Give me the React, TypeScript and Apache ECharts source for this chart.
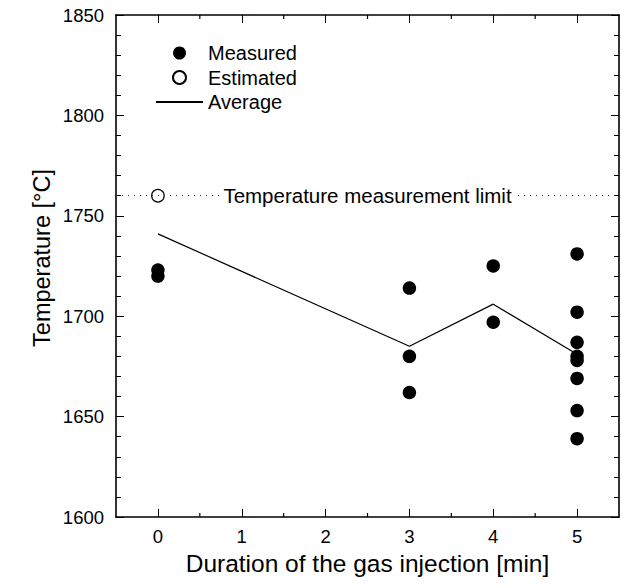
import React, { useEffect, useRef } from "react";
import * as echarts from "echarts";

const measuredX = [0, 0, 3, 3, 3, 4, 4, 5, 5, 5, 5, 5, 5, 5, 5];
const measuredY = [1723, 1720, 1714, 1680, 1662, 1725, 1697, 1731, 1702, 1687, 1680, 1678, 1669, 1653, 1639];
const estimatedX = [0];
const estimatedY = [1760];
const averageX = [0, 3, 4, 5];
const averageY = [1741, 1685, 1706, 1681];
const limitValue = 1760;
const limitLabel = "Temperature measurement limit";
const xMin = -0.5;
const xMax = 5.5;
const yMin = 1600;
const yMax = 1850;
const xMajorTicks = [0, 1, 2, 3, 4, 5];
const xMinorTicks = [0.5, 1.5, 2.5, 3.5, 4.5];
const xTitle = "Duration of the gas injection [min]";
const yTitle = "Temperature [°C]";

const FONT = "'Liberation Sans', Arial, Helvetica, sans-serif";

export default function App() {
  const ref = useRef<HTMLDivElement>(null);
  useEffect(() => {
    if (!ref.current) return;
    const chart = echarts.init(ref.current, undefined, { renderer: "svg" });
    const tickStyle = () => ({ stroke: "#000", lineWidth: 1.2 });
    chart.setOption({
      animation: false,
      grid: { left: 116, right: 14, top: 15, bottom: 71 },
      legend: {
        orient: "vertical",
        left: 155,
        top: 43,
        padding: 0,
        itemWidth: 47,
        itemHeight: 13,
        itemGap: 4.5,
        textStyle: { fontFamily: FONT, fontSize: 20, color: "#000", lineHeight: 20 },
        data: ["Measured", "Estimated", "Average"],
      },
      xAxis: [
        {
          type: "value",
          min: xMin,
          max: xMax,
          interval: 0.5,
          position: "bottom",
          splitLine: { show: false },
          axisLine: { show: true, onZero: false, lineStyle: { color: "#000", width: 1.6 } },
          axisTick: { show: true, inside: true, length: 8, customValues: xMajorTicks, lineStyle: { color: "#000" } },
          axisLabel: { customValues: xMajorTicks, fontSize: 18.5, color: "#000", margin: 10, fontFamily: FONT },
          name: xTitle,
          nameLocation: "middle",
          nameGap: 27,
          nameTextStyle: { fontSize: 24.5, color: "#000", fontFamily: FONT },
        },
        {
          type: "value",
          min: xMin,
          max: xMax,
          interval: 0.5,
          position: "top",
          splitLine: { show: false },
          axisLine: { show: true, onZero: false, lineStyle: { color: "#000", width: 1.6 } },
          axisTick: { show: true, inside: true, length: 8, customValues: xMajorTicks, lineStyle: { color: "#000" } },
          axisLabel: { show: false },
        },
      ],
      yAxis: [
        {
          type: "value",
          min: yMin,
          max: yMax,
          interval: 50,
          position: "left",
          splitLine: { show: false },
          axisLine: { show: true, onZero: false, lineStyle: { color: "#000", width: 1.6 } },
          axisTick: { show: true, inside: true, length: 8, lineStyle: { color: "#000" } },
          minorTick: { show: true, splitNumber: 5, length: 5, lineStyle: { color: "#000" } },
          axisLabel: { fontSize: 18.5, color: "#000", margin: 12, fontFamily: FONT, formatter: (v: number) => String(v) },
        },
        {
          type: "value",
          min: yMin,
          max: yMax,
          interval: 50,
          position: "right",
          splitLine: { show: false },
          axisLine: { show: true, onZero: false, lineStyle: { color: "#000", width: 1.6 } },
          axisTick: { show: true, inside: true, length: 8, lineStyle: { color: "#000" } },
          minorTick: { show: true, splitNumber: 5, length: 5, lineStyle: { color: "#000" } },
          axisLabel: { show: false },
        },
      ],
      graphic: [
        {
          type: "text",
          x: 42,
          y: 258,
          rotation: Math.PI / 2,
          style: {
            text: yTitle,
            font: `23.5px ${FONT}`,
            fill: "#000",
            textAlign: "center",
            textVerticalAlign: "middle",
          },
        },
      ],
      series: [
        {
          name: "xMinorTicks",
          type: "custom",
          silent: true,
          clip: false,
          data: xMinorTicks.map((v) => [v, yMin]),
          renderItem: (params: any, api: any) => {
            const v = api.value(0);
            const a = api.coord([v, yMin]);
            const b = api.coord([v, yMax]);
            return {
              type: "group",
              children: [
                { type: "line", shape: { x1: a[0], y1: a[1], x2: a[0], y2: a[1] - 4 }, style: tickStyle() },
                { type: "line", shape: { x1: b[0], y1: b[1], x2: b[0], y2: b[1] + 4 }, style: tickStyle() },
              ],
            };
          },
        },
        {
          name: "Average",
          type: "line",
          symbol: "none",
          data: averageX.map((x, i) => [x, averageY[i]]),
          lineStyle: { color: "#000", width: 1.2 },
          itemStyle: { color: "rgba(0,0,0,0)", borderColor: "rgba(0,0,0,0)" },
        },
        {
          name: "Estimated",
          type: "scatter",
          symbol: "circle",
          symbolSize: 12.5,
          data: estimatedX.map((x, i) => [x, estimatedY[i]]),
          itemStyle: { color: "#fff", borderColor: "#000", borderWidth: 1.2, opacity: 1 },
          markLine: {
            silent: true,
            symbol: "none",
            lineStyle: { type: [1, 5], color: "#333", width: 1 },
            label: {
              show: true,
              position: "middle",
              formatter: limitLabel,
              fontSize: 20.5,
              color: "#000",
              fontFamily: FONT,
              backgroundColor: "#fff",
              padding: [0, 4],
              distance: 0,
              verticalAlign: "middle",
            },
            data: [{ yAxis: limitValue }],
          },
        },
        {
          name: "Measured",
          type: "scatter",
          symbol: "circle",
          symbolSize: 13.5,
          data: measuredX.map((x, i) => [x, measuredY[i]]),
          itemStyle: { color: "#000", opacity: 1 },
        },
      ],
    });
    return () => chart.dispose();
  }, []);
  return (
    <div
      ref={ref}
      style={{ position: "fixed", left: 0, top: 0, width: 633, height: 588, background: "#fff" }}
    />
  );
}
